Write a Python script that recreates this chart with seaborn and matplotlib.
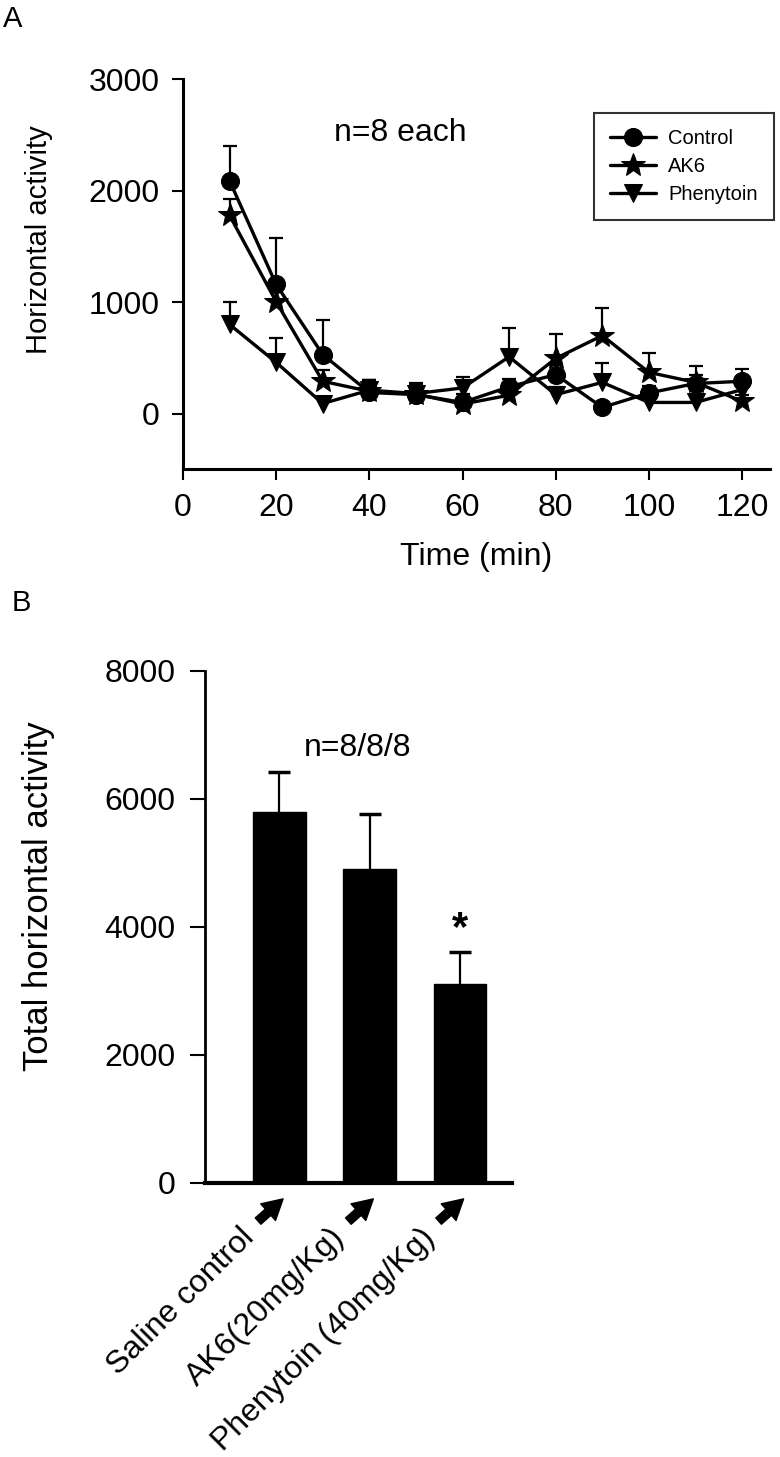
import numpy as np
import pandas as pd
import matplotlib
matplotlib.use("Agg")
import matplotlib.pyplot as plt
import matplotlib.transforms as mtransforms
import seaborn as sns

# ---------------- data ----------------
time_min = [10, 20, 30, 40, 50, 60, 70, 80, 90, 100, 110, 120]
control_mean = [2090, 1160, 530, 190, 170, 100, 240, 350, 55, 185, 270, 290]
control_sem = [310, 420, 310, 115, 100, 80, 70, 90, 50, 60, 160, 110]
ak6_mean = [1780, 1005, 290, 200, 175, 85, 165, 495, 700, 370, 280, 110]
ak6_sem = [150, 120, 100, 100, 100, 60, 60, 220, 250, 170, 70, 60]
phen_mean = [800, 460, 90, 210, 180, 230, 510, 170, 280, 100, 100, 215]
phen_sem = [200, 220, 60, 90, 90, 100, 260, 70, 170, 50, 50, 80]
series_names = ["Control", "AK6", "Phenytoin"]

groups = ["Saline control", "AK6(20mg/Kg)", "Phenytoin (40mg/Kg)"]
totals = [5790, 4910, 3100]
totals_sem = [630, 860, 510]

yticks_a = [0, 1000, 2000, 3000]
xticks_a = [0, 20, 40, 60, 80, 100, 120]
yticks_b = [0, 2000, 4000, 6000, 8000]

# ---------------- style ----------------
sns.set_theme(style="ticks")
plt.rcParams["font.family"] = ["Liberation Sans", "DejaVu Sans"]
for k in ["text.color", "axes.labelcolor", "xtick.color", "ytick.color", "axes.edgecolor"]:
    plt.rcParams[k] = "black"
FS = 23


def upper_errorbar(ax, x, y, err, **kw):
    """Draw only the upper half of an error bar (no cap at the mean)."""
    cont = ax.errorbar(x, y, yerr=[np.zeros(len(err)), err], fmt="none", **kw)
    for cl in cont[1]:
        if np.allclose(np.asarray(cl.get_ydata(), dtype=float), np.asarray(y, dtype=float)):
            cl.set_visible(False)
    return cont


fig = plt.figure(figsize=(7.8, 14.57), dpi=100)

# ---------------- panel A ----------------
axA = fig.add_axes([182.9 / 780, 1 - 469.3 / 1457, (770 - 182.9) / 780, 390 / 1457])
means = [control_mean, ak6_mean, phen_mean]
sems = [control_sem, ak6_sem, phen_sem]
markers = ["o", "*", "v"]
msizes = [13, 18, 13]
for name, m, s, mk, ms in zip(series_names, means, sems, markers, msizes):
    upper_errorbar(axA, time_min, m, s, ecolor="black", elinewidth=1.6,
                   capsize=5, capthick=1.6, zorder=2)
    sns.lineplot(x=time_min, y=m, ax=axA, color="black", linewidth=2.4,
                 marker=mk, markersize=ms, markeredgecolor="black",
                 markerfacecolor="black", label=name, zorder=3)

axA.set_xlim(0, (770 - 182.9) / 93.2 * 20)
axA.set_ylim(-500, 3000)
axA.set_xticks(xticks_a)
axA.set_yticks(yticks_a)
axA.tick_params(axis="both", labelsize=FS, length=8, width=1.5, pad=9,
                direction="out", color="black", labelcolor="black")
for side in ["left", "bottom"]:
    axA.spines[side].set_linewidth(2.2)
    axA.spines[side].set_color("black")
sns.despine(ax=axA)
axA.set_xlabel("Time (min)", fontsize=FS, labelpad=14)
axA.set_ylabel("Horizontal activity", fontsize=21)
axA.yaxis.set_label_coords(-0.222, 0.59)
axA.text(46.6, 2520, "n=8 each", fontsize=FS, ha="center", va="center")

leg = axA.legend(loc="upper right", bbox_to_anchor=(774 / 780, 1 - 113 / 1457),
                 bbox_transform=fig.transFigure, borderaxespad=0, fontsize=14.5,
                 frameon=True, fancybox=False, edgecolor="black", handlelength=2.3,
                 borderpad=0.8, labelspacing=0.45, handletextpad=0.6)
leg.get_frame().set_linewidth(1.5)

fig.text(3 / 780, 1 - 19 / 1457, "A", fontsize=21, ha="left", va="center")

# ---------------- panel B ----------------
axB = fig.add_axes([205 / 780, 1 - 1183 / 1457, 307 / 780, 512.3 / 1457])
dfB = pd.DataFrame({"group": groups, "total": totals})
sns.barplot(data=dfB, x="group", y="total", ax=axB, color="black",
            width=0.585, edgecolor="black", saturation=1, errorbar=None)
upper_errorbar(axB, list(range(len(groups))), totals, totals_sem, ecolor="black",
               elinewidth=1.6, capsize=8, capthick=2.5, zorder=3)
axB.set_xlim(-0.825, 2.576)
axB.set_ylim(0, 8000)
axB.set_yticks(yticks_b)
axB.set_xticks(range(len(groups)))
axB.set_xticklabels(groups, rotation=45, ha="right", va="center",
                    rotation_mode="anchor", fontsize=FS)
axB.tick_params(axis="y", labelsize=FS, length=11, width=1.5, pad=10, color="black")
axB.tick_params(axis="x", length=0, pad=0)
shift = mtransforms.ScaledTranslation(-0.30, -0.50, fig.dpi_scale_trans)
for lab in axB.get_xticklabels():
    lab.set_transform(lab.get_transform() + shift)

# arrows pointing from each label to its bar
xform = axB.get_xaxis_transform()
for i in range(len(groups)):
    axB.annotate("", xy=(i + 0.04, -0.031), xycoords=xform,
                 xytext=(-18, -16), textcoords="offset points",
                 arrowprops=dict(arrowstyle="simple,head_length=0.9,head_width=1.0,tail_width=0.38",
                                 color="black", shrinkA=0, shrinkB=0, mutation_scale=16),
                 annotation_clip=False)

axB.spines["left"].set_linewidth(2.0)
axB.spines["bottom"].set_linewidth(3.0)
for side in ["left", "bottom"]:
    axB.spines[side].set_color("black")
sns.despine(ax=axB)
axB.set_xlabel("")
axB.set_ylabel("Total horizontal activity", fontsize=25)
axB.yaxis.set_label_coords(-0.49, 0.56)
axB.text(0.86, 6800, "n=8/8/8", fontsize=FS, ha="center", va="center")
axB.text(2, 3960, "*", fontsize=30, ha="center", va="center", fontweight="bold")

fig.text(12 / 780, 1 - 603 / 1457, "B", fontsize=21, ha="left", va="center")

fig.savefig("out.png", dpi=100)
